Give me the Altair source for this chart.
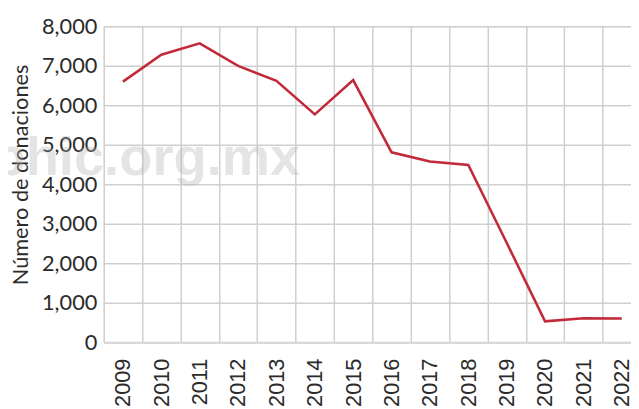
import altair as alt
import pandas as pd

years = [2009, 2010, 2011, 2012, 2013, 2014, 2015, 2016, 2017, 2018, 2019, 2020, 2021, 2022]
donaciones = [6600, 7280, 7570, 7000, 6620, 5770, 6640, 4810, 4580, 4490, 2520, 530, 610, 600]
y_ticks = [0, 1000, 2000, 3000, 4000, 5000, 6000, 7000, 8000]
grid_x = [y + 0.5 for y in years[:-1]]
watermark = "aphic.org.mx"

df = pd.DataFrame({"year": years, "value": donaciones})

xscale = alt.Scale(domain=[2008.5, 2022.24], nice=False, zero=False)
yscale = alt.Scale(domain=[0, 8000], nice=False)

yaxis = alt.Axis(values=y_ticks, format=",d", grid=True, ticks=False,
                 gridColor="#cfcfcf", gridWidth=1.5,
                 domain=True, domainColor="#cfcfcf", domainWidth=1.5,
                 labelFont="Lato", labelFontSize=22, labelColor="#2b2b2b",
                 labelPadding=7,
                 title="Número de donaciones", titleFont="Lato",
                 titleFontSize=22, titleFontWeight="normal",
                 titleColor="#2b2b2b", titleAngle=-90,
                 titleX=-84, titleY=150, titleAlign="center",
                 titleBaseline="middle")

grid_layer = alt.Chart(df).mark_line(opacity=0).encode(
    x=alt.X("year:Q", scale=xscale,
            axis=alt.Axis(values=grid_x, grid=True, labels=False, ticks=False,
                          domain=False, title=None, orient="bottom",
                          gridColor="#cfcfcf", gridWidth=1.5)),
    y=alt.Y("value:Q", scale=yscale, axis=yaxis),
)

wm = alt.Chart(pd.DataFrame({"t": [watermark]})).mark_text(
    font="Liberation Sans", fontWeight="bold", fontSize=55, color="#b0b0b0",
    opacity=0.33, align="right", baseline="alphabetic",
).encode(
    text="t:N",
    x=alt.value(199),
    y=alt.value(151),
)

line_layer = alt.Chart(df).mark_line(color="#c22a3a", strokeWidth=2.6).encode(
    x=alt.X("year:Q", scale=xscale,
            axis=alt.Axis(values=years, format="d", grid=False, ticks=False,
                          domain=True, domainColor="#d6d6d6", domainWidth=2,
                          labelAngle=-90, labelAlign="right", labelBaseline="middle",
                          labelFont="Liberation Sans", labelFontSize=22,
                          labelColor="#2b2b2b", labelPadding=16,
                          title=None, orient="bottom", labelOverlap=False,
                          labelBound=False, labelFlush=False)),
    y=alt.Y("value:Q", scale=yscale, axis=yaxis),
)

chart = alt.layer(grid_layer, wm, line_layer).resolve_axis(x="independent").properties(
    width=534, height=320,
    autosize=alt.AutoSizeParams(type="none"),
    padding={"left": 97, "top": 16, "right": 0, "bottom": 65},
).configure_view(stroke=None).configure(background="white")

chart.save("out.html", embed_options={"renderer": "svg", "actions": False})
